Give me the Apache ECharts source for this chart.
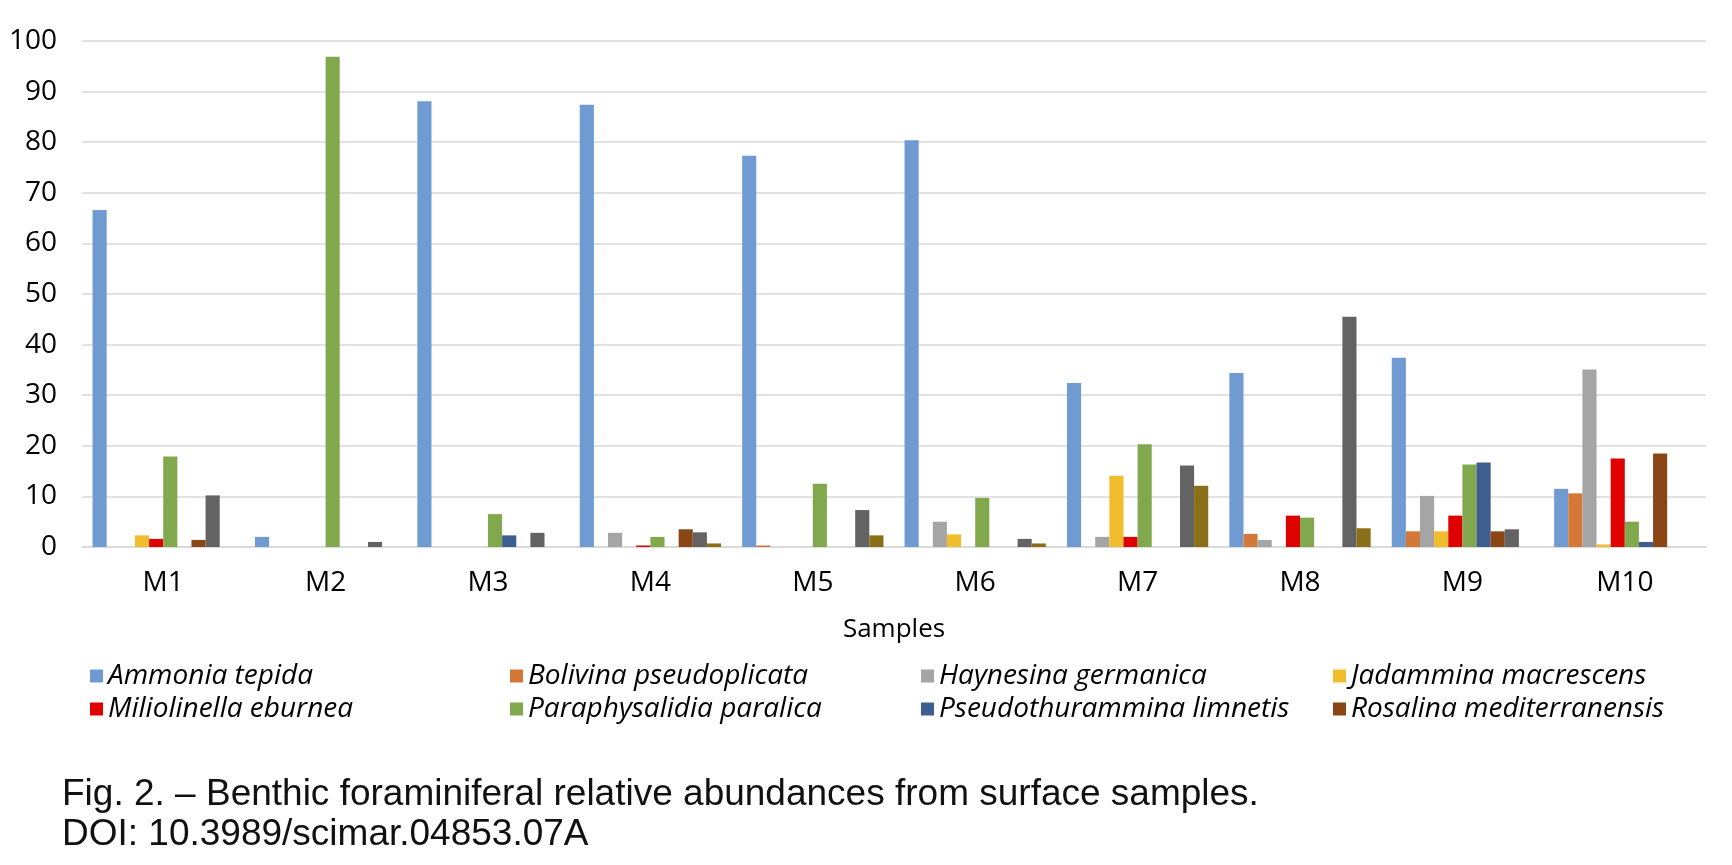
<!DOCTYPE html>
<html>
<head>
<meta charset="utf-8">
<title>Benthic foraminifera</title>
<script src="https://cdn.jsdelivr.net/npm/echarts@6/dist/echarts.min.js"></script>
<style>
    html, body { margin: 0; padding: 0; background: #fff; }
    #chart { width: 1732px; height: 865px; }
</style>
</head>
<body>
<div id="chart"></div>
<script>
// samples on the x axis
let samples = ['M1', 'M2', 'M3', 'M4', 'M5', 'M6', 'M7', 'M8', 'M9', 'M10'];
let yTicks = [0, 10, 20, 30, 40, 50, 60, 70, 80, 90, 100];

// relative abundances (%) per species
let ammoniaTepida         = [66.6, 2.0, 88.1, 87.4, 77.3, 80.4, 32.4, 34.4, 37.4, 11.5];
let bolivinaPseudoplicata = [0, 0, 0, 0, 0.3, 0, 0, 2.6, 3.1, 10.6];
let haynesinaGermanica    = [0, 0, 0, 2.8, 0, 5.0, 2.0, 1.4, 10.1, 35.1];
let jadamminaMacrescens   = [2.3, 0, 0, 0, 0, 2.5, 14.1, 0, 3.1, 0.5];
let miliolinellaEburnea   = [1.6, 0, 0, 0.3, 0, 0, 2.0, 6.2, 6.2, 17.5];
let paraphysalidiaParalica = [17.9, 96.9, 6.5, 2.0, 12.5, 9.7, 20.3, 5.8, 16.3, 5.0];
let pseudothurLimnetis    = [0, 0, 2.3, 0, 0, 0, 0, 0, 16.7, 1.0];
let rosalinaMediterr      = [1.4, 0, 0, 3.5, 0, 0, 0, 0, 3.1, 18.5];
// two more series whose legend entries are cut off in the figure
let series9  = [10.2, 1.0, 2.8, 2.9, 7.3, 1.6, 16.1, 45.5, 3.5, 0];
let series10 = [0, 0, 0, 0.7, 2.3, 0.7, 12.1, 3.7, 0, 0];

let speciesNames = [
    'Ammonia tepida', 'Bolivina pseudoplicata', 'Haynesina germanica', 'Jadammina macrescens',
    'Miliolinella eburnea', 'Paraphysalidia paralica', 'Pseudothurammina limnetis', 'Rosalina mediterranensis',
    'Series 9', 'Series 10'
];
let speciesData = [
    ammoniaTepida, bolivinaPseudoplicata, haynesinaGermanica, jadamminaMacrescens,
    miliolinellaEburnea, paraphysalidiaParalica, pseudothurLimnetis, rosalinaMediterr,
    series9, series10
];
let colors = ['#6f9ad2', '#d4783a', '#a5a5a5', '#f0be2c', '#df0000',
              '#82a84d', '#3e5e8f', '#8b4616', '#636363', '#8b6e18'];

let myChart = echarts.init(document.getElementById('chart'));

let series = [];
for (let i = 0; i < speciesNames.length; i++) {
    series.push({
        name: speciesNames[i],
        type: 'bar',
        data: speciesData[i],
        barGap: '0%',
        barCategoryGap: '13%',
        itemStyle: { color: colors[i] }
    });
}

// legend: 4 columns x 2 rows, only the first 8 names are shown
let colLeft = [85, 505, 916, 1328];
let legends = [];
for (let c = 0; c < 4; c++) {
    legends.push({
        orient: 'vertical',
        left: colLeft[c],
        top: 657,
        itemWidth: 13,
        itemHeight: 13,
        itemGap: 5,
        icon: 'rect',
        selectedMode: false,
        data: [speciesNames[c], speciesNames[c + 4]],
        textStyle: {
            fontFamily: 'Open Sans',
            fontStyle: 'italic',
            fontSize: 28,
            color: '#000'
        }
    });
}

let option = {
    animation: false,
    color: colors,
    textStyle: { fontFamily: 'Open Sans' },
    title: {
        text: 'Fig. 2. \u2013 Benthic foraminiferal relative abundances from surface samples.\nDOI: 10.3989/scimar.04853.07A',
        left: 57,
        top: 770,
        textStyle: {
            fontFamily: 'Liberation Sans',
            fontWeight: 'normal',
            fontSize: 37,
            lineHeight: 40,
            color: '#111'
        }
    },
    legend: legends,
    grid: {
        left: 82,
        right: 26,
        top: 41,
        bottom: 318
    },
    xAxis: {
        type: 'category',
        data: samples,
        name: 'Samples',
        nameLocation: 'middle',
        nameGap: 70,
        nameTextStyle: { fontSize: 26, color: '#000' },
        axisLine: { show: true, lineStyle: { color: '#d9d9d9', width: 1.5 } },
        axisTick: { show: false },
        axisLabel: { fontSize: 28, color: '#000', margin: 22 }
    },
    yAxis: {
        type: 'value',
        min: yTicks[0],
        max: yTicks[yTicks.length - 1],
        interval: 10,
        axisLine: { show: false },
        axisTick: { show: false },
        axisLabel: { fontSize: 28, color: '#000', margin: 25 },
        splitLine: { lineStyle: { color: '#d9d9d9', width: 1.5 } }
    },
    series: series
};
myChart.setOption(option);
</script>
</body>
</html>
